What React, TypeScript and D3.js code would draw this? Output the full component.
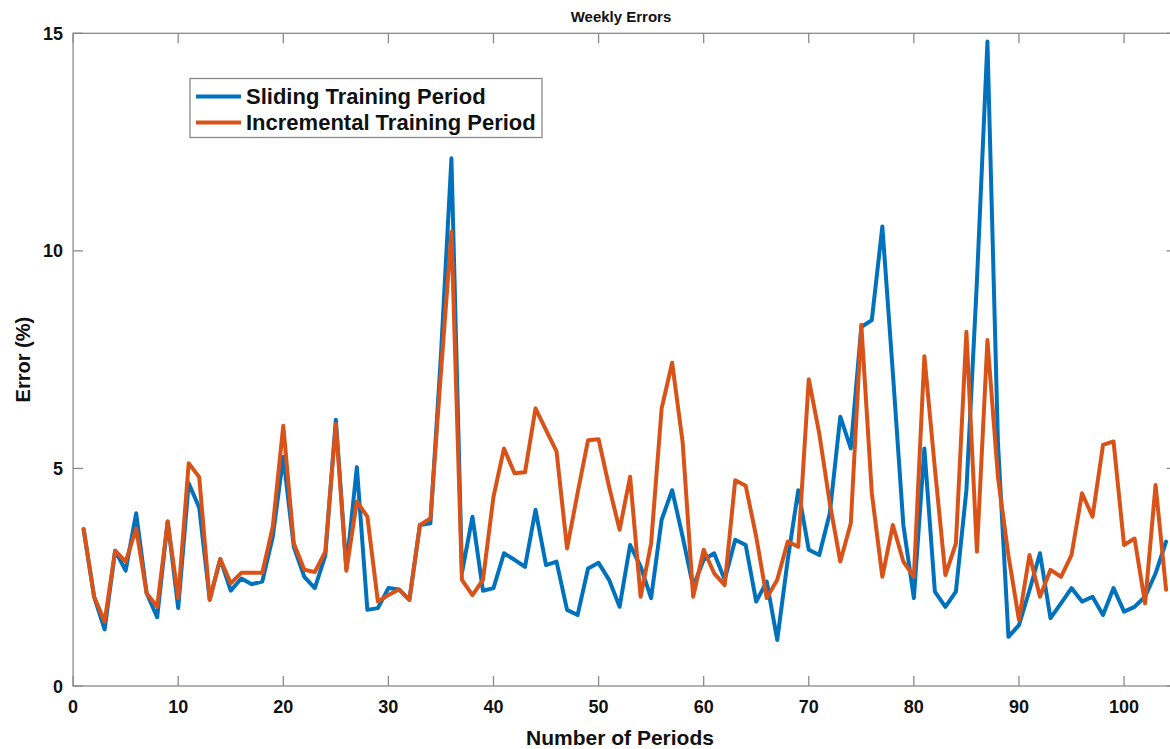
import React from "react";
import * as d3 from "d3";

// Weekly forecast error (%) per period for the two training strategies
const periods: number[] = d3.range(1, 105);

const slidingErrors: number[] = [
  3.6, 2.05, 1.3, 3.11, 2.65, 3.97, 2.13, 1.58, 3.78, 1.79,
  4.66, 4.1, 1.98, 2.92, 2.19, 2.47, 2.34, 2.4, 3.43, 5.27,
  3.2, 2.51, 2.25, 3.0, 6.12, 2.7, 5.03, 1.75, 1.79, 2.25,
  2.22, 1.98, 3.7, 3.74, 7.6, 12.13, 2.6, 3.89, 2.19, 2.25,
  3.05, 2.9, 2.74, 4.05, 2.78, 2.86, 1.75, 1.63, 2.7, 2.83,
  2.44, 1.82, 3.24, 2.75, 2.02, 3.82, 4.5, 3.43, 2.28, 2.9,
  3.05, 2.44, 3.36, 3.24, 1.94, 2.4, 1.06, 2.9, 4.5, 3.13,
  3.01, 3.97, 6.19, 5.46, 8.25, 8.41, 10.56, 7.2, 3.7, 2.02,
  5.46, 2.17, 1.82, 2.17, 4.5, 9.3, 14.81, 5.6, 1.13, 1.4,
  2.2, 3.05, 1.56, 1.9, 2.25, 1.94, 2.05, 1.63, 2.25, 1.71,
  1.82, 2.05, 2.59, 3.32,
];

const incrementalErrors: number[] = [
  3.61, 2.05, 1.48, 3.11, 2.86, 3.62, 2.13, 1.82, 3.78, 2.02,
  5.12, 4.8, 1.98, 2.92, 2.36, 2.6, 2.6, 2.6, 3.66, 5.98,
  3.28, 2.67, 2.62, 3.09, 6.02, 2.65, 4.24, 3.89, 1.94, 2.09,
  2.22, 1.98, 3.7, 3.85, 7.2, 10.44, 2.44, 2.09, 2.44, 4.35,
  5.46, 4.89, 4.91, 6.38, 5.88, 5.39, 3.16, 4.43, 5.65, 5.67,
  4.58, 3.59, 4.81, 2.05, 3.28, 6.38, 7.43, 5.6, 2.05, 3.13,
  2.59, 2.32, 4.73, 4.6, 3.43, 2.02, 2.44, 3.32, 3.2, 7.05,
  5.8, 4.2, 2.86, 3.74, 8.3, 4.43, 2.51, 3.7, 2.86, 2.51,
  7.58, 5.0, 2.55, 3.28, 8.14, 3.09, 7.95, 4.8, 3.0, 1.52,
  3.01, 2.05, 2.67, 2.51, 3.01, 4.43, 3.89, 5.54, 5.62, 3.24,
  3.39, 1.9, 4.62, 2.21,
];

const xTicks: number[] = [0, 10, 20, 30, 40, 50, 60, 70, 80, 90, 100];
const yTicks: number[] = [0, 5, 10, 15];

const seriesNames = ["Sliding Training Period", "Incremental Training Period"];
const seriesColors = ["#0072BD", "#D95319"];

const W = 1170;
const H = 749;
const left = 73.1;
const top = 33.3;
const bottom = 686;
const right = 1176.6;

export default function App() {
  const x = d3.scaleLinear().domain([0, 105]).range([left, right]);
  const y = d3.scaleLinear().domain([0, 15]).range([bottom, top]);

  const line = d3
    .line<number>()
    .x((_, i) => x(periods[i]))
    .y((d) => y(d));

  const series = [slidingErrors, incrementalErrors];
  const axisColor = "#8a8a8a";
  const font = "'Liberation Sans', Arial, sans-serif";
  const tickLen = 10;

  return (
    <svg
      width={W}
      height={H}
      style={{ position: "absolute", left: 0, top: 0, background: "#fff" }}
      fontFamily={font}
    >
      <rect x={0} y={0} width={W} height={H} fill="#fff" />
      <defs>
        <clipPath id="plot-area">
          <rect x={left} y={top} width={right - left} height={bottom - top} />
        </clipPath>
      </defs>

      {/* data lines */}
      <g clipPath="url(#plot-area)">
        {series.map((s, k) => (
          <path
            key={k}
            d={line(s) || ""}
            fill="none"
            stroke={seriesColors[k]}
            strokeWidth={4}
            strokeLinejoin="round"
            strokeLinecap="round"
          />
        ))}
      </g>

      {/* axes box */}
      <rect
        x={left}
        y={top}
        width={right - left}
        height={bottom - top}
        fill="none"
        stroke={axisColor}
        strokeWidth={1.3}
      />

      {/* x ticks (bottom and top, pointing inward) */}
      {xTicks.map((t) => (
        <g key={"x" + t}>
          <line x1={x(t)} x2={x(t)} y1={bottom} y2={bottom - tickLen} stroke={axisColor} strokeWidth={1.3} />
          <line x1={x(t)} x2={x(t)} y1={top} y2={top + tickLen} stroke={axisColor} strokeWidth={1.3} />
          <text
            x={x(t)}
            y={bottom + 27}
            textAnchor="middle"
            fontSize={18}
            fontWeight="bold"
            fill="#111"
          >
            {t}
          </text>
        </g>
      ))}

      {/* y ticks (left and right, pointing inward) */}
      {yTicks.map((t) => (
        <g key={"y" + t}>
          <line x1={left} x2={left + tickLen} y1={y(t)} y2={y(t)} stroke={axisColor} strokeWidth={1.3} />
          <line x1={right} x2={right - tickLen} y1={y(t)} y2={y(t)} stroke={axisColor} strokeWidth={1.3} />
          <text
            x={left - 10}
            y={y(t) + 6.5}
            textAnchor="end"
            fontSize={18}
            fontWeight="bold"
            fill="#111"
          >
            {t}
          </text>
        </g>
      ))}

      {/* title and axis labels */}
      <text x={621} y={22} textAnchor="middle" fontSize={15} fontWeight="bold" fill="#111">
        Weekly Errors
      </text>
      <text x={620} y={745} textAnchor="middle" fontSize={21} fontWeight="bold" fill="#111">
        Number of Periods
      </text>
      <text
        transform={`translate(30, ${(top + bottom) / 2}) rotate(-90)`}
        textAnchor="middle"
        fontSize={20}
        fontWeight="bold"
        fill="#111"
      >
        Error (%)
      </text>

      {/* legend */}
      <g>
        <rect x={190} y={78.5} width={352} height={59} fill="#fff" stroke={axisColor} strokeWidth={1.3} />
        {seriesNames.map((name, k) => (
          <g key={name}>
            <line
              x1={196}
              x2={241}
              y1={96.5 + k * 26}
              y2={96.5 + k * 26}
              stroke={seriesColors[k]}
              strokeWidth={4}
            />
            <text x={246} y={104 + k * 26} fontSize={22} fontWeight="bold" fill="#111">
              {name}
            </text>
          </g>
        ))}
      </g>
    </svg>
  );
}
